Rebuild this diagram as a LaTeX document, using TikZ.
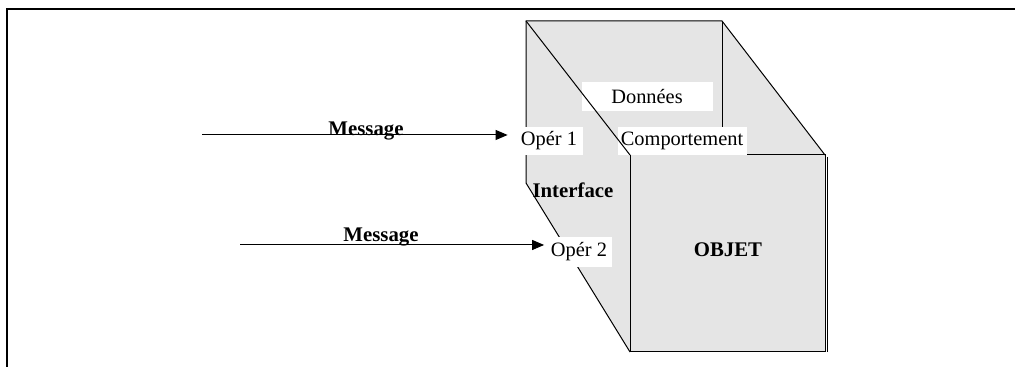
\documentclass[tikz,border=0pt]{standalone}
\usepackage{fontspec}
\setmainfont{Liberation Serif}
\usetikzlibrary{arrows.meta}
\begin{document}
\begin{tikzpicture}[x=0.5pt,y=-0.5pt,
  edge/.style={line width=0.5pt},
  boxlabel/.style={fill=white, inner sep=0pt, font=\fontsize{10.2}{12}\selectfont},
  boldlabel/.style={inner sep=0pt, font=\fontsize{10.4}{12}\selectfont\bfseries},
  msg/.style={-{Triangle[length=6pt,width=5pt]}, line width=0.5pt}]
  \useasboundingbox (0,0) rectangle (1015,367);
  % frame
  \draw[line width=1pt] (7,367) -- (7,9) -- (1015,9);
  % the object block
  \fill[black!10] (526,21) -- (722,21) -- (825,155) -- (825,352)
    -- (630,352) -- (526,183) -- cycle;
  \draw[edge] (526,183) -- (526,21) -- (722,21) -- (825,155);
  \draw[edge] (526,183) -- (630,352);
  \draw[edge] (722,21) -- (722,155);
  \draw[edge] (630,155) rectangle (825,352);
  \draw[edge] (827,157) -- (827,352);
  % labels
  \node[boxlabel, minimum width=65.5pt, minimum height=14.5pt] (data) at (647,97) {Données};
  \node[boxlabel, minimum width=64.5pt, minimum height=14pt] (behav) at (682,141) {Comportement};
  \node[boxlabel, minimum width=34pt, minimum height=14pt] (op1) at (549,141) {Opér 1};
  \node[boxlabel, minimum width=32.5pt, minimum height=15pt] (op2) at (579,252) {Opér 2};
  \node[boldlabel] (iface) at (573,190) {Interface};
  \node[boldlabel] (obj) at (728,250) {OBJET};
  % front edge of the side face, over the labels
  \draw[edge] (526,21) -- (630,155);
  % messages
  \coordinate (m1) at (202,135);
  \coordinate (m2) at (240,245);
  \draw[msg, shorten >=3.5pt] (m1) -- (m1 -| op1.west);
  \draw[msg, shorten >=1pt] (m2) -- (m2 -| op2.west);
  \node[boldlabel] (msg1) at (366,131) {Message};
  \node[boldlabel] (msg2) at (381,237) {Message};
\end{tikzpicture}
\end{document}
